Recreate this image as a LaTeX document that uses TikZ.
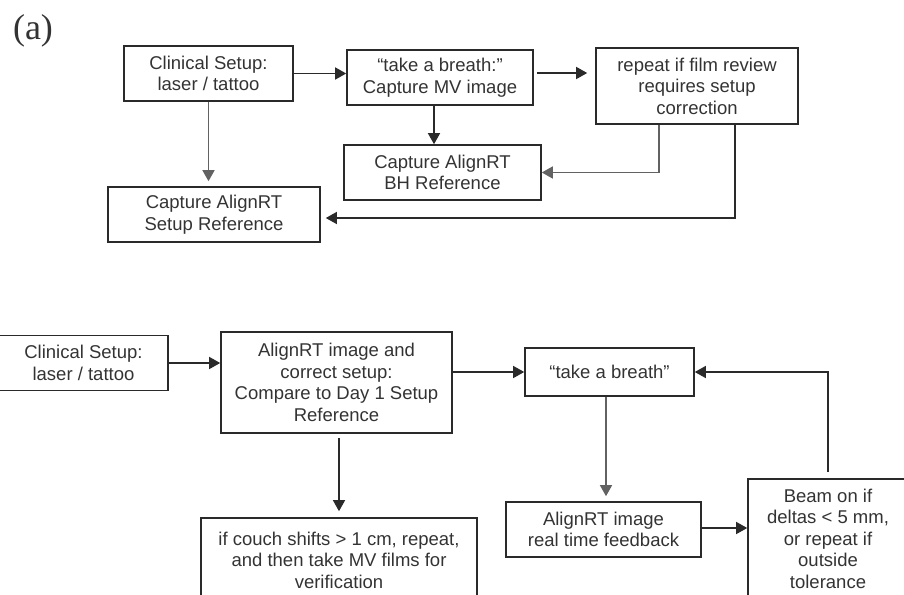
\documentclass[tikz,border=0pt]{standalone}
\usepackage{fontspec}
\setmainfont{Liberation Sans}
\newfontfamily\labelfont{Liberation Serif}
\usetikzlibrary{arrows.meta}
\definecolor{linec}{HTML}{2A2A2A}
\definecolor{linegray}{HTML}{626262}
\definecolor{textc}{HTML}{333333}
\begin{document}
\begin{tikzpicture}[x=1pt,y=-1pt,
  box/.style={draw=linec, line width=1.6pt, inner sep=0pt, align=center,
    font=\fontsize{18.5}{21.5}\selectfont, text=textc},
  arr/.style={draw=linec, line width=1.4pt, -{Triangle[length=11pt,width=12pt]}},
  arrg/.style={arr, draw=linegray},
]
\useasboundingbox (0,0) rectangle (904,594);
\clip (0,0) rectangle (904,594);

\node[font=\labelfont\fontsize{36}{40}\selectfont, text=textc, inner sep=0pt] (lab) at (33,31) {(a)};

% top flow
\node[box, minimum width=169pt, minimum height=55pt] (A1) at (208.5,73.5) {Clinical Setup:\\laser / tattoo};
\node[box, minimum width=186pt, minimum height=55pt] (A2) at (440,77.5) {“take a breath:”\\Capture MV image};
\node[box, minimum width=202pt, minimum height=76pt] (A3) at (697,86) {repeat if film review\\requires setup\\correction};
\node[box, minimum width=197pt, minimum height=55pt] (A4) at (442.5,172.5) {Capture AlignRT\\BH Reference};
\node[box, minimum width=212pt, minimum height=55pt] (A5) at (214,214.5) {Capture AlignRT\\Setup Reference};

\draw[arr] (A1.east) -- (A1.east -| A2.west);
\draw[arr, shorten <=3pt, shorten >=8pt] (A2.east |- 0,73) -- (A3.west |- 0,73);
\draw[arrg, shorten >=5pt] (A1.south) -- (A1.south |- A5.north);
\draw[arr] ([xshift=-6pt]A2.south) -- ([xshift=-6pt]A2.south |- A4.north);
\draw[arrg] (A3.south -| 659,0) |- (A4.east);
\draw[arr, shorten >=5pt] (A3.south -| 735,0) |- ([yshift=-3.5pt]A5.east);

% bottom flow
\node[box, minimum width=169pt, minimum height=55pt] (B1) at (83.5,363) {Clinical Setup:\\laser / tattoo};
\node[box, minimum width=231pt, minimum height=101pt] (B2) at (336.5,382.5) {AlignRT image and\\correct setup:\\Compare to Day 1 Setup\\Reference};
\node[box, minimum width=276pt, minimum height=84pt] (B3) at (339,560) {if couch shifts > 1 cm, repeat,\\and then take MV films for\\verification};
\node[box, minimum width=169pt, minimum height=48pt] (B4) at (609.5,372) {“take a breath”};
\node[box, minimum width=195pt, minimum height=55pt] (B5) at (603.5,529.5) {AlignRT image\\real time feedback};
\node[box, minimum width=160pt, minimum height=119pt] (B6) at (828,538.5) {Beam on if\\deltas < 5 mm,\\or repeat if\\outside\\tolerance};

\draw[arr] (B1.east) -- (B1.east -| B2.west);
\draw[arr] (B4.west -| B2.east) -- (B4.west);
\draw[arr, shorten <=4pt, shorten >=6pt] (B3.north |- B2.south) -- (B3.north);
\draw[arrg, shorten >=5pt] ([xshift=-3.5pt]B4.south) -- ([xshift=-3.5pt]B4.south |- B5.north);
\draw[arr] ([yshift=1.5pt]B5.east) -- ([yshift=1.5pt]B5.east -| B6.west);
\draw[arr, shorten <=6pt] (B6.north) |- (B4.east);
\end{tikzpicture}
\end{document}
